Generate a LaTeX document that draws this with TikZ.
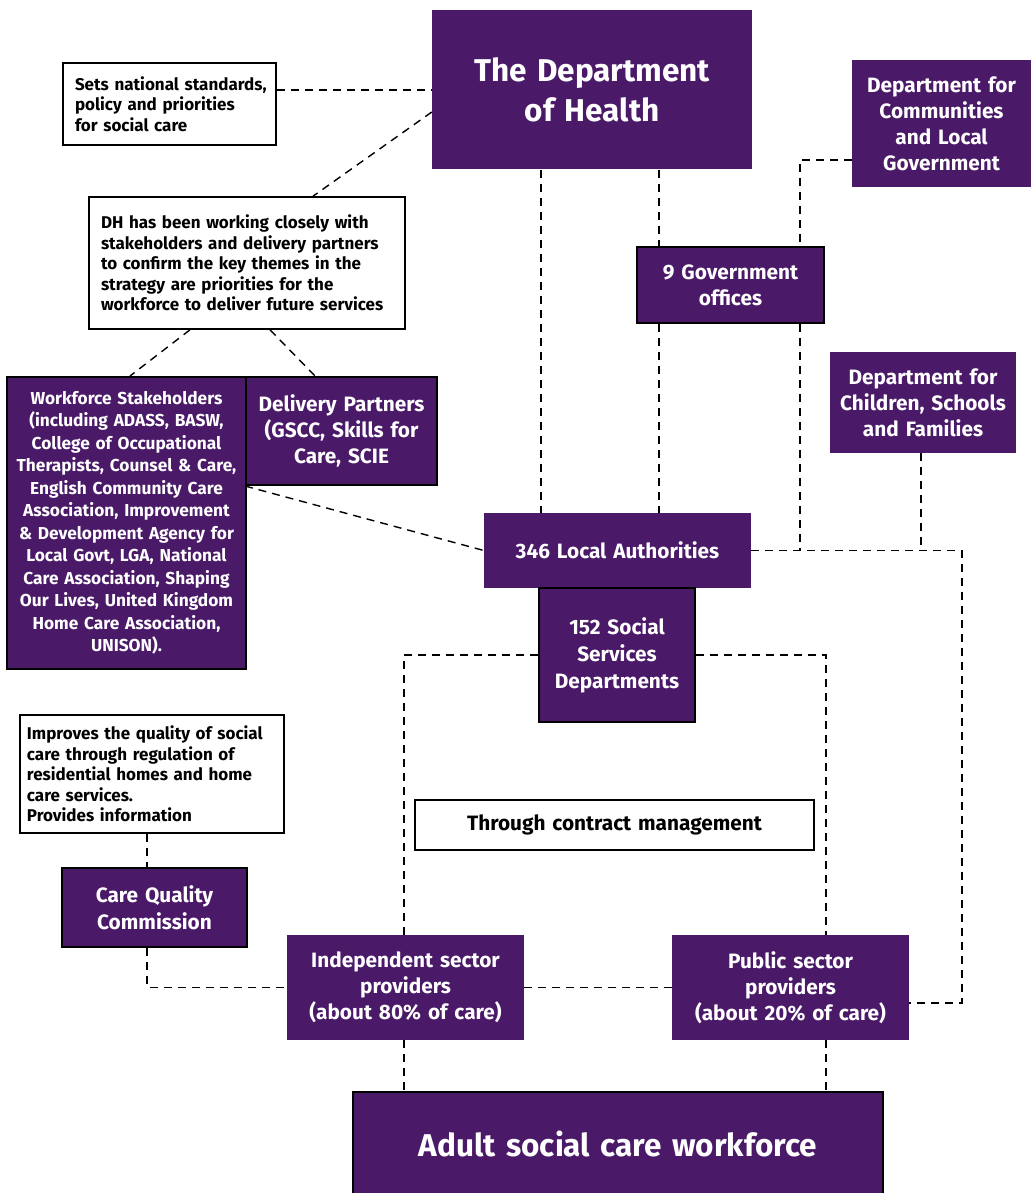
\documentclass[tikz,border=0pt]{standalone}
\usepackage{fontspec}
\setmainfont{Fira Sans}
\usetikzlibrary{calc}
\definecolor{dhpurple}{HTML}{4A1968}
\tikzset{
  pbox/.style={rectangle, fill=dhpurple, text=white, align=center, inner sep=0pt},
  pboxb/.style={pbox, draw=black, line width=2pt},
  wbox/.style={rectangle, fill=white, draw=black, line width=1.6pt, text=black, align=left, inner sep=0pt},
  fbig/.style={font=\bfseries\fontsize{31.5}{40}\selectfont},
  fmid/.style={font=\bfseries\fontsize{20.8}{26}\selectfont},
  fmidb/.style={font=\bfseries\fontsize{20.8}{27}\selectfont},
  fsmall/.style={font=\bfseries\fontsize{17}{20.5}\selectfont},
  fwf/.style={font=\bfseries\fontsize{17.3}{22.5}\selectfont},
  dl/.style={draw=black, line width=1.4pt, dash pattern=on 8pt off 6pt}
}
\begin{document}
\begin{tikzpicture}[x=1pt,y=-1pt]
\useasboundingbox (0,0) rectangle (1031,1193);
% nodes
\node[pbox, fbig, minimum width=320pt, minimum height=159pt, text width=314pt] (doh) at (592,90)
  {The Department\\of Health};
\node[wbox, fsmall, minimum width=213pt, minimum height=82pt, text width=189pt] (sets) at (169.5,104)
  {\mbox{Sets national standards,}\\policy and priorities\\for social care};
\node[wbox, fsmall, minimum width=316pt, minimum height=132pt, text width=292pt] (dh) at (247,263)
  {DH has been working closely with\\stakeholders and delivery partners\\to confirm the key themes in the\\strategy are priorities for the\\workforce to deliver future services};
\node[pboxb, fwf, minimum width=239pt, minimum height=292pt, text width=237pt] (wf) at (126.5,523)
  {Workforce Stakeholders\\(including ADASS, BASW,\\College of Occupational\\Therapists, Counsel \& Care,\\English Community Care\\Association, Improvement\\\& Development Agency for\\Local Govt, LGA, National\\Care Association, Shaping\\Our Lives, United Kingdom\\Home Care Association,\\UNISON).};
\node[pboxb, fmid, minimum width=191pt, minimum height=108pt, text width=189pt] (dp) at (341.5,431)
  {Delivery Partners\\(GSCC, Skills for\\Care, SCIE};
\node[pbox, fmid, minimum width=179pt, minimum height=127pt, text width=177pt] (dclg) at (941.5,123.5)
  {Department for\\Communities\\and Local\\Government};
\node[pboxb, fmid, minimum width=187pt, minimum height=76pt, text width=183pt] (gov) at (730.5,285)
  {9 Government\\offices};
\node[pbox, fmid, minimum width=186pt, minimum height=101pt, text width=184pt] (dcsf) at (923,402.5)
  {Department for\\Children, Schools\\and Families};
\node[pbox, fmid, minimum width=267pt, minimum height=75pt, text width=260pt] (la) at (617.5,550.5)
  {346 Local Authorities};
\node[pboxb, fmidb, minimum width=156pt, minimum height=134pt, text width=152pt] (ssd) at (617,655)
  {152 Social\\Services\\Departments};
\node[wbox, fmid, align=center, minimum width=399pt, minimum height=50pt, text width=390pt] (thr) at (614.5,825)
  {Through contract management};
\node[wbox, fsmall, minimum width=264pt, minimum height=118pt, text width=250pt] (imp) at (152,774)
  {Improves the quality of social\\care through regulation of\\residential homes and home\\care services.\\Provides information};
\node[pboxb, fmidb, minimum width=185pt, minimum height=79pt, text width=180pt] (cqc) at (154.5,907.5)
  {Care Quality\\Commission};
\node[pbox, fmid, minimum width=237pt, minimum height=105pt, text width=233pt] (ind) at (405.5,987.5)
  {Independent sector\\providers\\(about 80\% of care)};
\node[pbox, fmid, minimum width=237pt, minimum height=105pt, text width=233pt] (pub) at (790.5,987.5)
  {Public sector\\providers\\(about 20\% of care)};
\node[pboxb, fbig, minimum width=530pt, minimum height=103pt, text width=520pt] (adult) at (618,1143.5)
  {Adult social care workforce};
\coordinate (rc) at (962,550.5);
\coordinate (pubr) at ([yshift=-15.5pt]pub.east);
% connectors
\draw[dl] ([yshift=14pt]sets.east) -- ([yshift=14pt]sets.east -| doh.west);
\draw[dl] ([yshift=-22pt]doh.west) -- ([xshift=66pt]dh.north);
\draw[dl] ([xshift=-57pt]dh.south) -- ([xshift=3.5pt]wf.north);
\draw[dl] ([xshift=23pt]dh.south) -- ([xshift=-26.5pt]dp.north);
\draw[dl] (dp.south west) -- (la.west);
\draw[dl] ([yshift=-36.5pt]dclg.west) -| ([xshift=69.5pt]gov.north);
\draw[dl] ([xshift=69.5pt]gov.south) -- ([xshift=69.5pt]gov.south |- la.east);
\draw[dl] ([xshift=-71.5pt]gov.north |- doh.south) -- ([xshift=-71.5pt]gov.north);
\draw[dl] ([xshift=-71.5pt]gov.south) -- ([xshift=-71.5pt]gov.south |- la.north);
\draw[dl] ([xshift=-76.5pt]la.north |- doh.south) -- ([xshift=-76.5pt]la.north);
\draw[dl] ([xshift=-2pt]dcsf.south) -- ([xshift=-2pt]dcsf.south |- la.east);
\draw[dl] (la.east) -- (rc) |- (pubr);
\draw[dl] (ssd.west) -| ([xshift=-1.5pt]ind.north);
\draw[dl] (ssd.east) -| ([xshift=35.5pt]pub.north);
\draw[dl] ([xshift=-7.5pt]cqc.north |- imp.south) -- ([xshift=-7.5pt]cqc.north);
\draw[dl] ([xshift=-7.5pt]cqc.south) |- (ind.west);
\draw[dl] (ind.east) -- (pub.west);
\draw[dl] ([xshift=-1.5pt]ind.south) -- ([xshift=-1.5pt]ind.south |- adult.north);
\draw[dl] ([xshift=35.5pt]pub.south) -- ([xshift=35.5pt]pub.south |- adult.north);
\end{tikzpicture}
\end{document}
